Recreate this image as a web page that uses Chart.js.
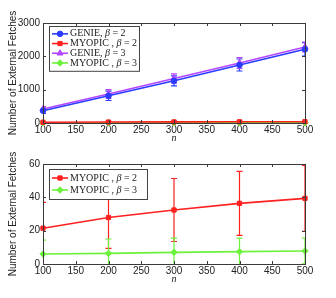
<!DOCTYPE html>
<html>
<head>
<meta charset="utf-8">
<script src="https://cdn.jsdelivr.net/npm/chart.js@4/dist/chart.umd.min.js"></script>
<style>
  body { margin: 0; background: #fff; }
  .box { position: relative; width: 336px; height: 149px; }
</style>
</head>
<body>
<div class="box"><canvas id="topChart"></canvas></div>
<div class="box"><canvas id="bottomChart"></canvas></div>
<script>
// values
var nValues = [100, 200, 300, 400, 500];
var genieB2 = [370, 815, 1265, 1740, 2210];
var genieB2Err = [80, 140, 150, 180, 200];
var genieB3 = [420, 870, 1335, 1800, 2280];
var genieB3Err = [70, 130, 140, 160, 150];
var myopicB2 = [21.5, 27.9, 32.4, 36.4, 39.4];
var myopicB2Err = [15.5, 18.5, 18.9, 19.2, 19.8];
var myopicB3 = [6.0, 6.4, 7.0, 7.4, 7.8];
var myopicB3Err = [8.3, 8.6, 8.5, 8.1, 7.7];
var topTicks = [0, 1000, 2000, 3000];
var bottomTicks = [0, 20, 40, 60];

var BLUE = "#2a3cff", RED = "#ff2020", PURPLE = "#b446ff", GREEN = "#6cf23a";
var SANS = "'Liberation Sans', Arial, sans-serif";
var SERIF = "'Liberation Serif', 'Times New Roman', serif";

function pts(ys) {
  return nValues.map(function (n, i) { return { x: n, y: ys[i] }; });
}

function series(label, ys, errs, color, style, r) {
  return {
    label: label, data: pts(ys), errors: errs,
    borderColor: color, backgroundColor: color,
    borderWidth: 1.6, pointStyle: style, pointRadius: r,
    pointBorderWidth: 1, clip: false, tension: 0
  };
}

var errorBars = {
  id: "errorBars",
  beforeDatasetsDraw: function (chart) {
    var ctx = chart.ctx, a = chart.chartArea;
    var xs = chart.scales.x, ys = chart.scales.y;
    ctx.save();
    ctx.beginPath();
    ctx.rect(a.left, a.top - 1, a.right - a.left, a.bottom - a.top + 2);
    ctx.clip();
    chart.data.datasets.forEach(function (ds) {
      ctx.strokeStyle = ds.borderColor;
      ctx.lineWidth = 1.2;
      ds.data.forEach(function (p, i) {
        var x = xs.getPixelForValue(p.x);
        var lo = ys.getPixelForValue(p.y - ds.errors[i]);
        var hi = ys.getPixelForValue(p.y + ds.errors[i]);
        ctx.beginPath();
        ctx.moveTo(x, lo); ctx.lineTo(x, hi);
        ctx.moveTo(x - 3, lo); ctx.lineTo(x + 3, lo);
        ctx.moveTo(x - 3, hi); ctx.lineTo(x + 3, hi);
        ctx.stroke();
      });
    });
    ctx.restore();
  }
};

// matlab style box with inward ticks, and the boxed legend
var axesBox = {
  id: "axesBox",
  afterDraw: function (chart) {
    var ctx = chart.ctx, a = chart.chartArea;
    var xs = chart.scales.x, ys = chart.scales.y;
    ctx.save();
    ctx.strokeStyle = "#3a3a3a";
    ctx.lineWidth = 1;
    ctx.strokeRect(Math.round(a.left) + 0.5, Math.round(a.top) + 0.5,
      Math.round(a.right - a.left), Math.round(a.bottom - a.top));
    ctx.beginPath();
    xs.ticks.forEach(function (t) {
      var x = Math.round(xs.getPixelForValue(t.value)) + 0.5;
      ctx.moveTo(x, a.bottom); ctx.lineTo(x, a.bottom - 3);
      ctx.moveTo(x, a.top); ctx.lineTo(x, a.top + 3);
    });
    ys.ticks.forEach(function (t) {
      var y = Math.round(ys.getPixelForValue(t.value)) + 0.5;
      ctx.moveTo(a.left, y); ctx.lineTo(a.left + 3, y);
      ctx.moveTo(a.right, y); ctx.lineTo(a.right - 3, y);
    });
    ctx.stroke();

    var opt = chart.options.plugins.axesBox;
    var bx = a.left + 6, by = a.top + opt.dy;
    var n = chart.data.datasets.length;
    var bh = opt.row * n + 6;
    ctx.fillStyle = "#fff";
    ctx.fillRect(bx, by, opt.width, bh);
    ctx.strokeStyle = "#444";
    ctx.strokeRect(Math.round(bx) + 0.5, Math.round(by) + 0.5, opt.width, bh);
    chart.data.datasets.forEach(function (ds, i) {
      var cy = by + 3 + opt.row * i + opt.row / 2;
      ctx.strokeStyle = ds.borderColor;
      ctx.fillStyle = ds.borderColor;
      ctx.lineWidth = 1.6;
      ctx.beginPath(); ctx.moveTo(bx + 3, cy); ctx.lineTo(bx + 19, cy); ctx.stroke();
      ctx.lineWidth = 1;
      Chart.helpers.drawPoint(ctx, { pointStyle: ds.pointStyle, radius: ds.pointRadius, rotation: 0, borderWidth: 1 }, bx + 11, cy);
      var parts = ds.label.split("β");
      var tx = bx + 21;
      ctx.fillStyle = "#222";
      ctx.textBaseline = "middle";
      ctx.font = "10px " + SERIF;
      ctx.fillText(parts[0], tx, cy);
      tx += ctx.measureText(parts[0]).width;
      ctx.font = "italic 10px " + SERIF;
      ctx.fillText("β", tx, cy);
      tx += ctx.measureText("β").width;
      ctx.font = "10px " + SERIF;
      ctx.fillText(parts[1], tx, cy);
    });
    ctx.restore();
  }
};

function makeChart(id, datasets, yTicks, pad, xH, titleBottom, legendOpt) {
  return new Chart(document.getElementById(id), {
    type: "line",
    data: { datasets: datasets },
    plugins: [errorBars, axesBox],
    options: {
      responsive: true,
      maintainAspectRatio: false,
      animation: false,
      layout: { padding: { top: pad, right: 31, left: 0, bottom: 0 } },
      plugins: {
        legend: { display: false },
        tooltip: { enabled: false },
        axesBox: legendOpt
      },
      scales: {
        x: {
          type: "linear", min: 100, max: 500,
          afterFit: function (s) { s.height = xH; },
          ticks: { stepSize: 50, padding: 1, color: "#222", font: { family: SANS, size: 10 } },
          grid: { display: false, drawTicks: false },
          border: { display: false },
          title: { display: true, text: "n", color: "#222", padding: { top: 0, bottom: titleBottom },
            font: { family: SERIF, size: 10, style: "italic" } }
        },
        y: {
          min: yTicks[0], max: yTicks[yTicks.length - 1],
          afterFit: function (s) { s.width = 43; },
          afterBuildTicks: function (s) { s.ticks = yTicks.map(function (v) { return { value: v }; }); },
          ticks: { padding: 3, color: "#222", font: { family: SANS, size: 10 },
            callback: function (v) { return String(v); } },
          grid: { display: false, drawTicks: false },
          border: { display: false },
          title: { display: true, text: "Number of External Fetches", color: "#222", padding: { top: 7, bottom: 2 },
            font: { family: SANS, size: 10 } }
        }
      }
    }
  });
}

makeChart("topChart", [
  series("GENIE, β = 2", genieB2, genieB2Err, BLUE, "circle", 2.8),
  series("MYOPIC , β = 2", myopicB2, myopicB2Err, RED, "rect", 3),
  series("GENIE, β = 3", genieB3, genieB3Err, PURPLE, "triangle", 3.5),
  series("MYOPIC , β = 3", myopicB3, myopicB3Err, GREEN, "rectRot", 3.2)
], topTicks, 23, 26, 5, { width: 90, row: 9.7, dy: 3 });

makeChart("bottomChart", [
  series("MYOPIC , β = 2", myopicB2, myopicB2Err, RED, "rect", 3),
  series("MYOPIC , β = 3", myopicB3, myopicB3Err, GREEN, "rectRot", 3.2)
], bottomTicks, 15, 34, 13, { width: 98, row: 12, dy: 5 });
</script>
</body>
</html>
